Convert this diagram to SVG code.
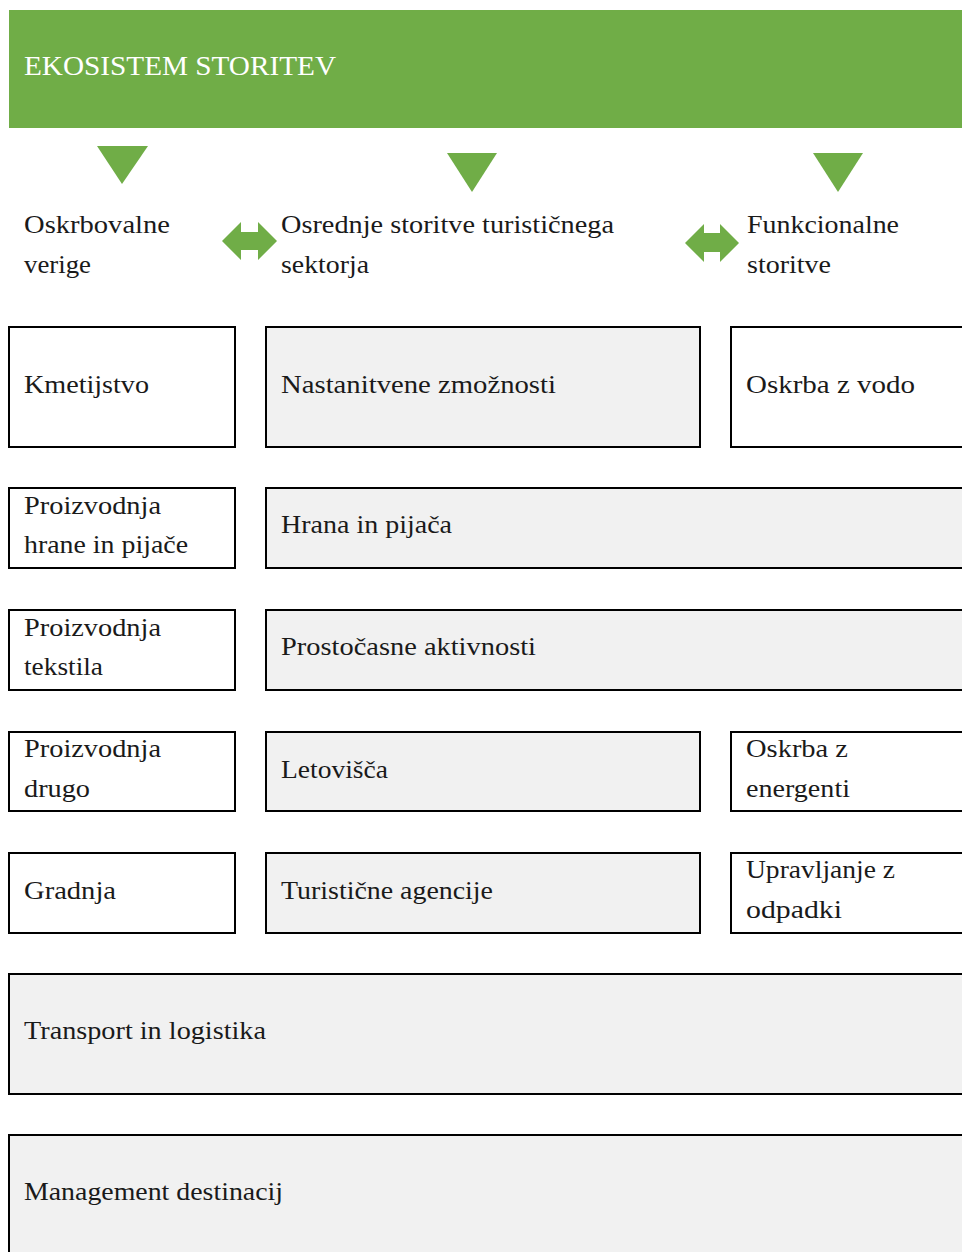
<svg xmlns="http://www.w3.org/2000/svg" width="962" height="1252" viewBox="0 0 962 1252" font-family="'Liberation Serif', 'Times New Roman', Tinos, 'DejaVu Serif', 'Noto Serif', serif">
<style>
  text { font-family: 'Liberation Serif', 'Times New Roman', Tinos, 'DejaVu Serif', 'Noto Serif', serif; font-size: 26px; fill: #1a1a1a; }
  .title { fill: #ffffff; font-size: 27px; }
  .box { stroke: #000000; stroke-width: 2; }
  .w { fill: #ffffff; }
  .g { fill: #f1f1f1; }
  .green { fill: #70ad47; }
</style>
<rect x="0" y="0" width="962" height="1252" fill="#ffffff"/>
<g id="header">
  <rect class="green" x="9" y="10" width="953" height="118"/>
  <text class="title" x="24" y="75" textLength="312" lengthAdjust="spacingAndGlyphs">EKOSISTEM STORITEV</text>
</g>
<g id="connectors">
  <polygon class="green" points="97,146 148,146 122,184"/>
  <polygon class="green" points="447,153 497,153 472,192"/>
  <polygon class="green" points="813,153 863,153 838,192"/>
  <polygon class="green" points="222,241 241,222 241,232 258,232 258,222 277,241 258,260 258,250 241,250 241,260"/>
  <polygon class="green" points="685,243 704,224 704,233 720,233 720,224 739,243 720,262 720,252 704,252 704,262"/>
</g>
<g id="col-oskrbovalne">
  <text x="24" y="233" textLength="146" lengthAdjust="spacingAndGlyphs">Oskrbovalne</text>
  <text x="24" y="273" textLength="67" lengthAdjust="spacingAndGlyphs">verige</text>
</g>
<g id="col-osrednje">
  <text x="281" y="233" textLength="333" lengthAdjust="spacingAndGlyphs">Osrednje storitve turističnega</text>
  <text x="281" y="273" textLength="88" lengthAdjust="spacingAndGlyphs">sektorja</text>
</g>
<g id="col-funkcionalne">
  <text x="747" y="233" textLength="152" lengthAdjust="spacingAndGlyphs">Funkcionalne</text>
  <text x="747" y="273" textLength="84" lengthAdjust="spacingAndGlyphs">storitve</text>
</g>
<g id="kmetijstvo">
  <rect class="box w" x="9" y="327" width="226" height="120"/>
  <text x="24" y="393" textLength="125" lengthAdjust="spacingAndGlyphs">Kmetijstvo</text>
</g>
<g id="nastanitvene">
  <rect class="box g" x="266" y="327" width="434" height="120"/>
  <text x="281" y="393" textLength="275" lengthAdjust="spacingAndGlyphs">Nastanitvene zmožnosti</text>
</g>
<g id="oskrba-vodo">
  <rect class="box w" x="731" y="327" width="240" height="120"/>
  <text x="746" y="393" textLength="169" lengthAdjust="spacingAndGlyphs">Oskrba z vodo</text>
</g>
<g id="proizvodnja-hrane">
  <rect class="box w" x="9" y="488" width="226" height="80"/>
  <text x="24" y="514" textLength="137" lengthAdjust="spacingAndGlyphs">Proizvodnja</text>
  <text x="24" y="553" textLength="164" lengthAdjust="spacingAndGlyphs">hrane in pijače</text>
</g>
<g id="hrana">
  <rect class="box g" x="266" y="488" width="705" height="80"/>
  <text x="281" y="533" textLength="171" lengthAdjust="spacingAndGlyphs">Hrana in pijača</text>
</g>
<g id="proizvodnja-tekstila">
  <rect class="box w" x="9" y="610" width="226" height="80"/>
  <text x="24" y="636" textLength="137" lengthAdjust="spacingAndGlyphs">Proizvodnja</text>
  <text x="24" y="675" textLength="79" lengthAdjust="spacingAndGlyphs">tekstila</text>
</g>
<g id="prostocasne">
  <rect class="box g" x="266" y="610" width="705" height="80"/>
  <text x="281" y="655" textLength="255" lengthAdjust="spacingAndGlyphs">Prostočasne aktivnosti</text>
</g>
<g id="proizvodnja-drugo">
  <rect class="box w" x="9" y="732" width="226" height="79"/>
  <text x="24" y="757" textLength="137" lengthAdjust="spacingAndGlyphs">Proizvodnja</text>
  <text x="24" y="797" textLength="66" lengthAdjust="spacingAndGlyphs">drugo</text>
</g>
<g id="letovisca">
  <rect class="box g" x="266" y="732" width="434" height="79"/>
  <text x="281" y="778" textLength="107" lengthAdjust="spacingAndGlyphs">Letovišča</text>
</g>
<g id="oskrba-energenti">
  <rect class="box w" x="731" y="732" width="240" height="79"/>
  <text x="746" y="757" textLength="102" lengthAdjust="spacingAndGlyphs">Oskrba z</text>
  <text x="746" y="797" textLength="104" lengthAdjust="spacingAndGlyphs">energenti</text>
</g>
<g id="gradnja">
  <rect class="box w" x="9" y="853" width="226" height="80"/>
  <text x="24" y="899" textLength="92" lengthAdjust="spacingAndGlyphs">Gradnja</text>
</g>
<g id="turisticne">
  <rect class="box g" x="266" y="853" width="434" height="80"/>
  <text x="281" y="899" textLength="212" lengthAdjust="spacingAndGlyphs">Turistične agencije</text>
</g>
<g id="upravljanje">
  <rect class="box w" x="731" y="853" width="240" height="80"/>
  <text x="746" y="878" textLength="149" lengthAdjust="spacingAndGlyphs">Upravljanje z</text>
  <text x="746" y="918" textLength="96" lengthAdjust="spacingAndGlyphs">odpadki</text>
</g>
<g id="transport">
  <rect class="box g" x="9" y="974" width="962" height="120"/>
  <text x="24" y="1039" textLength="242" lengthAdjust="spacingAndGlyphs">Transport in logistika</text>
</g>
<g id="management">
  <rect class="box g" x="9" y="1135" width="962" height="130"/>
  <text x="24" y="1200" textLength="259" lengthAdjust="spacingAndGlyphs">Management destinacij</text>
</g>
</svg>
